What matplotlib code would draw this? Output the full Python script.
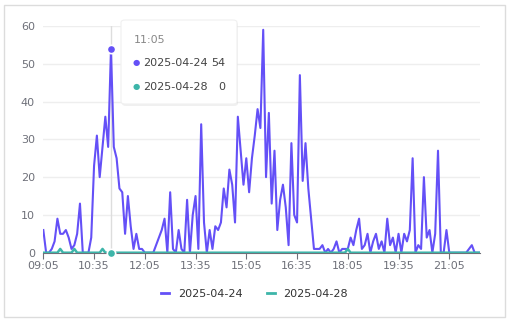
import numpy as np
import pandas as pd
import matplotlib.pyplot as plt
from matplotlib.patches import FancyBboxPatch, Rectangle
from matplotlib.lines import Line2D

# 5-minute slots from 09:05 to 22:00
times = pd.date_range("2025-04-24 09:05", periods=156, freq="5min").strftime("%H:%M").tolist()

series_0424 = [
    6, 0, 0, 1, 3, 9, 5, 5, 6, 4, 1, 2, 5, 13, 0, 0, 0, 4, 23, 31,
    20, 28, 36, 28, 54, 28, 25, 17, 16, 5, 15, 7, 1, 5, 1, 1, 0, 0, 0, 0,
    2, 4, 6, 9, 0, 16, 1, 0, 6, 1, 0, 14, 0, 10, 15, 1, 34, 8, 0, 6,
    1, 7, 6, 8, 17, 12, 22, 18, 8, 36, 27, 18, 25, 16, 25, 31, 38, 33, 59, 20,
    37, 13, 27, 6, 14, 18, 12, 2, 29, 10, 8, 47, 19, 29, 17, 9, 1, 1, 1, 2,
    0, 1, 0, 1, 3, 0, 1, 1, 1, 4, 2, 6, 9, 1, 2, 5, 0, 3, 5, 1,
    3, 0, 9, 2, 4, 0, 5, 0, 5, 3, 6, 25, 0, 2, 1, 20, 4, 6, 0, 5,
    27, 0, 0, 6, 0, 0, 0, 0, 0, 0, 0, 1, 2, 0, 0, 0,
]
series_0428 = [0] * 156
for i in (6, 11, 21, 108):
    series_0428[i] = 1

hover_idx = 24
purple = "#6450f7"
teal = "#3db5a9"

fig = plt.figure(figsize=(5.09, 3.22), dpi=100)
fig.patches.append(Rectangle((0.008, 0.015), 0.984, 0.97, transform=fig.transFigure,
                             fill=False, edgecolor="#dcdcdc", lw=1))

ax = fig.add_axes([0.0851, 0.2152, 0.8585, 0.7040])
x = np.arange(len(times))

ax.axvline(hover_idx, color="#dddddd", lw=1, zorder=1)
ax.plot(x, series_0424, color=purple, lw=1.5, zorder=3)
ax.plot(x, series_0428, color=teal, lw=1.8, zorder=4)

# hovered point markers
ax.plot(hover_idx, series_0424[hover_idx], "o", ms=6, color=purple, mec="white", mew=1.2, zorder=5, clip_on=False)
ax.plot(hover_idx, series_0428[hover_idx], "o", ms=6, color=teal, mec="white", mew=1.2, zorder=5, clip_on=False)

ax.set_xlim(0, len(times) - 1)
ax.set_ylim(0, 60)
ax.set_yticks(range(0, 61, 10))
ax.set_xticks(x[::18])
ax.set_xticklabels(times[::18])
ax.grid(axis="y", color="#eeeeee", lw=1)
ax.set_axisbelow(True)
for s in ["top", "right", "left"]:
    ax.spines[s].set_visible(False)
ax.spines["bottom"].set_color("#6e7079")
ax.tick_params(axis="y", length=0, pad=6, labelsize=8, labelcolor="#6e7079")
ax.tick_params(axis="x", length=4, color="#6e7079", pad=2, labelsize=8, labelcolor="#6e7079")

# legend
handles = [Line2D([0], [0], color=purple, lw=2), Line2D([0], [0], color=teal, lw=2)]
fig.legend(handles, ["2025-04-24", "2025-04-28"], loc="center", bbox_to_anchor=(0.5, 0.087),
           ncol=2, frameon=False, fontsize=8, handlelength=0.7, columnspacing=2.2,
           handletextpad=0.8, labelcolor="#333333")

# tooltip
W, H = 509, 322
def fx(px):
    return px / W
def fy(py):
    return 1 - py / H

shadow = FancyBboxPatch((fx(122), fy(106)), fx(116), 84 / H, boxstyle="round,pad=0,rounding_size=0.008",
                        transform=fig.transFigure, facecolor="#000000", alpha=0.06, edgecolor="none", zorder=9)
box = FancyBboxPatch((fx(121), fy(104)), fx(116), 84 / H, boxstyle="round,pad=0,rounding_size=0.008",
                     transform=fig.transFigure, facecolor="white", edgecolor="#f0f0f0", lw=0.8, zorder=10)
fig.patches.extend([shadow, box])
fig.text(fx(134), fy(40), times[hover_idx], fontsize=8, color="#888888", va="center", zorder=11)
rows = [("2025-04-24", series_0424[hover_idx], purple, 63), ("2025-04-28", series_0428[hover_idx], teal, 87)]
for name, val, col, py in rows:
    fig.text(fx(136), fy(py), "\u25cf", fontsize=6, color=col, ha="center", va="center", zorder=11)
    fig.text(fx(143), fy(py), name, fontsize=8, color="#444444", va="center", zorder=11)
    fig.text(fx(225), fy(py), str(val), fontsize=8, color="#444444", ha="right", va="center", zorder=11)

fig.savefig("out.png", dpi=100)
